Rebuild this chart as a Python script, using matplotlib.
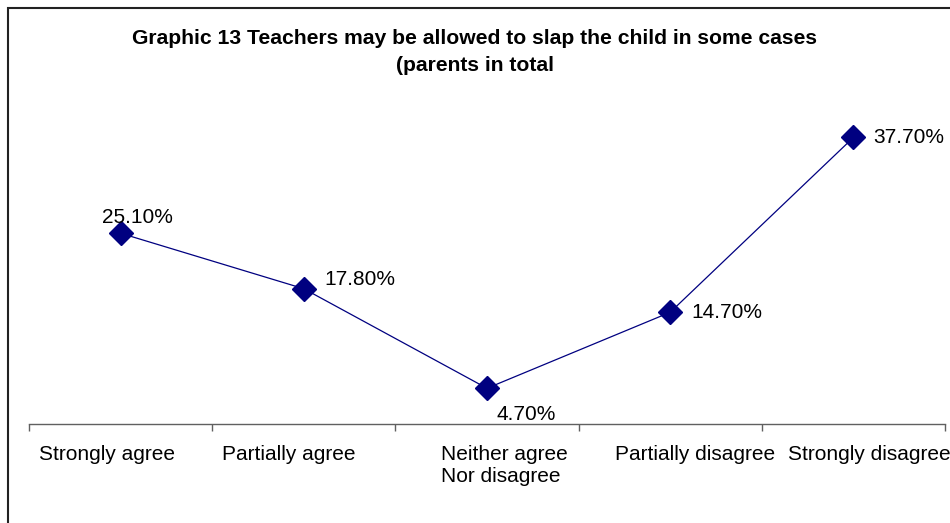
import matplotlib
matplotlib.use("Agg")
import matplotlib.pyplot as plt
from matplotlib.patches import Rectangle

plt.rcParams["font.family"] = ["Liberation Sans", "DejaVu Sans"]

# ============================================================
# Data
# ============================================================
categories = ["Strongly agree", "Partially agree", "Neither agree\nNor disagree",
              "Partially disagree", "Strongly disagree"]
values = [25.1, 17.8, 4.7, 14.7, 37.7]
value_labels = ["25.10%", "17.80%", "4.70%", "14.70%", "37.70%"]
title = "Graphic 13 Teachers may be allowed to slap the child in some cases\n(parents in total"

# label offsets (points) relative to each marker
label_offsets = [(12, 11.5), (15, 6.5), (6.5, -19), (15, 0), (14, 0)]
label_ha = ["center", "left", "left", "left", "left"]
# where each category label starts inside its slot (fraction of slot)
cat_pad = [0.055, 0.055, 0.25, 0.197, 0.142]

# ============================================================
# Figure
# ============================================================
fig = plt.figure(figsize=(9.5, 5.23), dpi=100)
ax = fig.add_axes([29 / 950, 99 / 523, 916 / 950, 304 / 523])

x = list(range(len(categories)))
ax.plot(x, values, color="#000080", linewidth=0.9, marker="D",
        markersize=12.5, markerfacecolor="#000080", markeredgecolor="#000080",
        clip_on=False, zorder=3)

for xi, v, lab, off, ha in zip(x, values, value_labels, label_offsets, label_ha):
    ax.annotate(lab, (xi, v), xytext=off, textcoords="offset points",
                ha=ha, va="center", fontsize=15, color="black", zorder=4)

ax.set_xlim(-0.5, len(categories) - 0.5)
ax.set_ylim(0, 40)

for side in ["left", "right", "top"]:
    ax.spines[side].set_visible(False)
ax.spines["bottom"].set_color("#606060")
ax.spines["bottom"].set_linewidth(1.0)

ax.set_yticks([])
ax.set_xticks([i - 0.5 for i in range(len(categories) + 1)])
ax.set_xticklabels([])
ax.tick_params(axis="x", length=5, width=1.0, color="#606060", direction="out")

# category labels, left-aligned inside each slot
for xi, cat, pad in zip(x, categories, cat_pad):
    ax.annotate(cat, xy=(xi - 0.5 + pad, 0), xycoords=("data", "axes fraction"),
                xytext=(0, -15), textcoords="offset points",
                ha="left", va="top", fontsize=15, linespacing=1.2,
                annotation_clip=False)

fig.text(0.5, 1 - 52 / 523, title, ha="center", va="center",
         fontsize=15.2, fontweight="bold", linespacing=1.55)

# outer frame (bottom/right fall outside the image)
fig.patches.append(Rectangle((8 / 950, -0.02), 1.0, 1 - 8 / 523 + 0.02,
                             transform=fig.transFigure, fill=False,
                             edgecolor="#222222", linewidth=1.5))

fig.savefig("out.png", dpi=100)
